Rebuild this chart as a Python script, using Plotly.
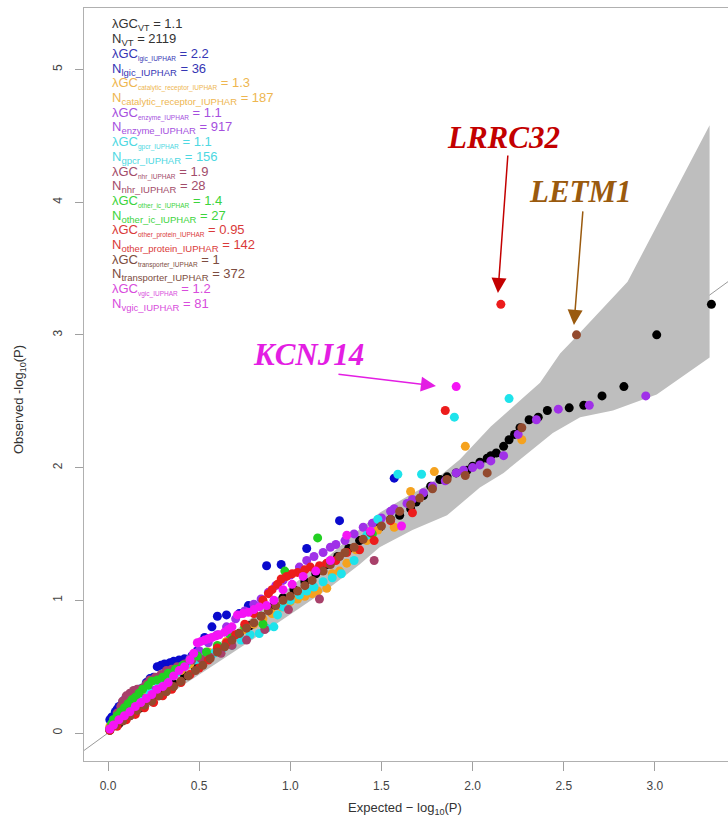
import plotly.graph_objects as go

# QQ plot of gene-set association p-values: expected vs observed -log10(P)
# Each list holds (expected, observed) pairs for one gene set.

vt_pts = [(3.31, 3.23), (3.01, 3.00), (2.83, 2.61), (2.71, 2.54), (2.61, 2.47), (2.53, 2.45),
          (2.41, 2.43), (2.36, 2.38), (2.31, 2.36), (2.26, 2.30), (2.23, 2.25), (2.20, 2.21),
          (2.17, 2.16), (2.13, 2.11), (2.10, 2.09), (2.08, 2.07), (2.04, 2.04), (2.00, 2.01),
          (1.97, 1.98), (1.91, 1.96), (1.86, 1.93), (1.82, 1.91), (1.77, 1.86), (1.73, 1.79),
          (1.69, 1.74), (1.66, 1.69), (1.60, 1.64), (1.55, 1.61), (1.49, 1.55), (1.44, 1.51),
          (1.38, 1.45), (1.32, 1.39), (1.26, 1.33), (1.20, 1.27), (1.14, 1.20), (1.08, 1.14),
          (1.02, 1.08), (0.96, 1.02), (0.90, 0.95), (0.84, 0.88), (0.78, 0.81), (0.72, 0.75),
          (0.66, 0.68), (0.60, 0.62), (0.54, 0.56), (0.48, 0.49), (0.42, 0.43), (0.36, 0.37),
          (0.30, 0.31), (0.24, 0.25), (0.18, 0.19), (0.12, 0.13), (0.06, 0.07), (0.01, 0.02)]

lgic_pts = [(1.57, 1.92), (1.27, 1.60), (1.09, 1.39), (0.95, 1.27), (0.87, 1.26), (0.77, 0.96),
            (0.72, 0.90), (0.65, 0.89), (0.60, 0.88), (0.57, 0.80), (0.53, 0.72), (0.49, 0.62),
            (0.46, 0.58), (0.42, 0.56), (0.39, 0.55), (0.36, 0.54), (0.34, 0.53), (0.31, 0.52),
            (0.29, 0.51), (0.27, 0.50), (0.25, 0.42), (0.23, 0.41), (0.21, 0.38), (0.19, 0.34),
            (0.17, 0.33), (0.15, 0.32), (0.14, 0.30), (0.12, 0.27), (0.11, 0.26), (0.09, 0.25),
            (0.08, 0.23), (0.06, 0.20), (0.05, 0.18), (0.04, 0.16), (0.02, 0.12), (0.01, 0.10)]

catalytic_pts = [(2.27, 2.21), (1.96, 2.16), (1.79, 1.97), (1.66, 1.82), (1.57, 1.55), (1.48, 1.53),
                 (1.42, 1.45), (1.36, 1.38), (1.31, 1.28), (1.27, 1.22), (1.23, 1.20), (1.20, 1.09),
                 (1.15, 1.07), (1.12, 1.05), (1.08, 1.03), (1.04, 1.01), (1.00, 0.99), (0.95, 0.95),
                 (0.90, 0.90), (0.85, 0.86), (0.80, 0.82), (0.75, 0.78), (0.70, 0.74), (0.65, 0.69),
                 (0.60, 0.65), (0.55, 0.61), (0.50, 0.57), (0.45, 0.52), (0.40, 0.47), (0.36, 0.44),
                 (0.32, 0.41), (0.28, 0.37), (0.24, 0.31), (0.21, 0.27), (0.17, 0.23), (0.13, 0.19),
                 (0.10, 0.17), (0.07, 0.14), (0.04, 0.10), (0.01, 0.05)]

enzyme_pts = [(2.95, 2.54), (2.64, 2.47), (2.47, 2.44), (2.35, 2.36), (2.25, 2.25), (2.17, 2.09),
              (2.10, 2.05), (2.04, 2.02), (2.00, 2.00), (1.95, 1.98), (1.91, 1.96), (1.85, 1.90),
              (1.78, 1.86), (1.73, 1.81), (1.67, 1.76), (1.64, 1.73), (1.57, 1.69), (1.55, 1.67),
              (1.50, 1.62), (1.45, 1.58), (1.40, 1.55), (1.35, 1.50), (1.30, 1.45), (1.25, 1.42),
              (1.22, 1.40), (1.18, 1.36), (1.13, 1.33), (1.09, 1.30), (1.05, 1.25), (1.00, 1.19),
              (0.96, 1.15), (0.92, 1.11), (0.88, 1.06), (0.84, 1.01), (0.80, 0.97), (0.75, 0.92),
              (0.70, 0.86), (0.65, 0.80), (0.60, 0.74), (0.55, 0.68), (0.50, 0.62), (0.45, 0.56),
              (0.40, 0.50), (0.35, 0.44), (0.30, 0.38), (0.25, 0.32), (0.20, 0.26), (0.15, 0.20),
              (0.10, 0.14), (0.05, 0.08), (0.01, 0.03)]

gpcr_pts = [(2.20, 2.52), (1.90, 2.38), (1.72, 1.95), (1.59, 1.95), (1.48, 1.61), (1.42, 1.49),
            (1.35, 1.30), (1.28, 1.20), (1.23, 1.17), (1.18, 1.14), (1.13, 1.10), (1.09, 1.07),
            (1.05, 1.04), (1.00, 1.00), (0.96, 0.95), (0.93, 0.89), (0.91, 0.80), (0.87, 0.79),
            (0.83, 0.75), (0.78, 0.74), (0.73, 0.70), (0.68, 0.66), (0.63, 0.64), (0.58, 0.60),
            (0.53, 0.57), (0.48, 0.55), (0.43, 0.52), (0.38, 0.46), (0.33, 0.41), (0.28, 0.36),
            (0.23, 0.30), (0.18, 0.24), (0.13, 0.19), (0.08, 0.13), (0.04, 0.08), (0.01, 0.03)]

nhr_pts = [(1.46, 1.30), (1.16, 1.01), (0.99, 0.93), (0.86, 0.78), (0.76, 0.70), (0.68, 0.66),
           (0.62, 0.60), (0.56, 0.57), (0.51, 0.56), (0.46, 0.55), (0.42, 0.52), (0.38, 0.50),
           (0.35, 0.48), (0.32, 0.47), (0.29, 0.44), (0.26, 0.42), (0.23, 0.40), (0.21, 0.37),
           (0.19, 0.34), (0.16, 0.33), (0.14, 0.32), (0.12, 0.30), (0.10, 0.28), (0.08, 0.24),
           (0.07, 0.20), (0.05, 0.15), (0.03, 0.10), (0.02, 0.05)]

other_ic_pts = [(1.45, 1.50), (1.15, 1.47), (0.97, 1.22), (0.85, 0.82), (0.75, 0.80), (0.67, 0.74),
                (0.60, 0.66), (0.54, 0.61), (0.49, 0.58), (0.45, 0.55), (0.41, 0.51), (0.37, 0.48),
                (0.33, 0.45), (0.30, 0.42), (0.27, 0.40), (0.24, 0.39), (0.22, 0.36), (0.19, 0.33),
                (0.17, 0.30), (0.15, 0.27), (0.13, 0.25), (0.11, 0.22), (0.09, 0.19), (0.07, 0.16),
                (0.05, 0.13), (0.03, 0.10), (0.02, 0.07)]

other_protein_pts = [(2.155, 3.23), (1.85, 2.43), (1.67, 1.66), (1.55, 1.60), (1.46, 1.45), (1.38, 1.38),
                     (1.31, 1.36), (1.25, 1.30), (1.20, 1.28), (1.16, 1.26), (1.11, 1.25), (1.08, 1.23),
                     (1.04, 1.21), (1.01, 1.20), (0.98, 1.18), (0.95, 1.16), (0.93, 1.12), (0.90, 1.08),
                     (0.88, 1.05), (0.85, 1.00), (0.80, 0.90), (0.75, 0.82), (0.70, 0.74), (0.65, 0.68),
                     (0.60, 0.64), (0.55, 0.55), (0.50, 0.49), (0.45, 0.44), (0.40, 0.38), (0.35, 0.33),
                     (0.30, 0.28), (0.25, 0.23), (0.20, 0.19), (0.15, 0.14), (0.10, 0.10), (0.05, 0.05),
                     (0.01, 0.02)]

transporter_pts = [(2.57, 3.00), (2.27, 2.30), (2.08, 1.96), (1.96, 1.94), (1.86, 1.91), (1.78, 1.84),
                   (1.71, 1.77), (1.66, 1.72), (1.60, 1.67), (1.55, 1.61), (1.50, 1.56), (1.44, 1.51),
                   (1.40, 1.46), (1.35, 1.40), (1.30, 1.36), (1.27, 1.33), (1.22, 1.27), (1.18, 1.22),
                   (1.12, 1.15), (1.08, 1.11), (1.04, 1.07), (1.00, 1.03), (0.96, 1.00), (0.92, 0.96),
                   (0.88, 0.92), (0.84, 0.88), (0.80, 0.83), (0.76, 0.79), (0.72, 0.75), (0.68, 0.70),
                   (0.64, 0.65), (0.60, 0.61), (0.56, 0.56), (0.52, 0.51), (0.48, 0.47), (0.44, 0.43),
                   (0.40, 0.39), (0.36, 0.35), (0.32, 0.31), (0.28, 0.28), (0.24, 0.24), (0.20, 0.21),
                   (0.16, 0.17), (0.12, 0.13), (0.08, 0.09), (0.04, 0.06), (0.01, 0.03)]

vgic_pts = [(1.91, 2.61), (1.61, 1.56), (1.44, 1.52), (1.31, 1.49), (1.22, 1.30), (1.14, 1.22),
            (1.07, 1.18), (1.01, 1.12), (0.96, 1.08), (0.91, 1.00), (0.87, 0.96), (0.83, 0.95),
            (0.80, 0.93), (0.77, 0.91), (0.74, 0.90), (0.71, 0.89), (0.68, 0.80), (0.66, 0.78),
            (0.64, 0.76), (0.61, 0.74), (0.59, 0.73), (0.57, 0.72), (0.55, 0.71), (0.53, 0.70),
            (0.51, 0.69), (0.49, 0.68), (0.47, 0.60), (0.45, 0.55), (0.42, 0.50), (0.39, 0.47),
            (0.36, 0.43), (0.33, 0.38), (0.30, 0.35), (0.27, 0.33), (0.24, 0.29), (0.21, 0.26),
            (0.18, 0.23), (0.15, 0.20), (0.12, 0.16), (0.09, 0.13), (0.06, 0.10), (0.03, 0.06),
            (0.01, 0.03)]

# 95% confidence band for the expected quantiles
band_upper = [(0.0, 0.02), (0.2, 0.25), (0.4, 0.46), (0.6, 0.67), (0.8, 0.88), (1.0, 1.10),
              (1.2, 1.32), (1.35, 1.50), (1.49, 1.66), (1.65, 1.79), (1.77, 1.88), (1.93, 2.06),
              (2.10, 2.31), (2.28, 2.53), (2.37, 2.64), (2.48, 2.86), (2.55, 2.96), (2.85, 3.40),
              (3.30, 4.58)]
band_lower = [(3.30, 2.83), (3.01, 2.55), (2.77, 2.43), (2.59, 2.38), (2.44, 2.26), (2.28, 2.08),
              (2.17, 1.96), (2.04, 1.85), (1.86, 1.64), (1.67, 1.53), (1.49, 1.40), (1.38, 1.27),
              (1.22, 1.10), (1.05, 0.94), (0.91, 0.81), (0.6, 0.53), (0.3, 0.26), (0.0, 0.0)]

set_names = ["VT", "lgic_IUPHAR", "catalytic_receptor_IUPHAR", "enzyme_IUPHAR", "gpcr_IUPHAR",
             "nhr_IUPHAR", "other_ic_IUPHAR", "other_protein_IUPHAR", "transporter_IUPHAR", "vgic_IUPHAR"]
lambda_gc = ["1.1", "2.2", "1.3", "1.1", "1.1", "1.9", "1.4", "0.95", "1", "1.2"]
n_genes = [2119, 36, 187, 917, 156, 28, 27, 142, 372, 81]
point_sets = [vt_pts, lgic_pts, catalytic_pts, enzyme_pts, gpcr_pts,
              nhr_pts, other_ic_pts, other_protein_pts, transporter_pts, vgic_pts]
point_colors = ["#000000", "#0A0ACD", "#F5A21E", "#A030E8", "#1EE3EB",
                "#A8406A", "#22D022", "#EC1C1C", "#934A2E", "#F514F5"]
text_colors = ["#333333", "#3636B4", "#EEB650", "#A550DE", "#4ED8E2",
               "#A24C6A", "#3CD43C", "#DA3A3A", "#7C4C40", "#D84CDC"]

x_ticks = [0.0, 0.5, 1.0, 1.5, 2.0, 2.5, 3.0]
y_ticks = [0, 1, 2, 3, 4, 5]

# highlighted genes: label, arrow tip (expected, observed), colour, tail offset px, label centre
callouts = [("LRRC32", 2.139, 3.316, "#C30000", 10, -139, 2.167, 4.49),
            ("LETM1", 2.556, 3.075, "#9A5A0E", 9, -115, 2.594, 4.08),
            ("KCNJ14", 1.799, 2.615, "#E31EE3", -99, -12, 1.100, 2.85)]

X_RANGE = [-0.1317, 3.401]
Y_RANGE = [-0.211, 5.463]

fig = go.Figure()

# identity line
fig.add_trace(go.Scatter(x=[-0.5, 4.0], y=[-0.5, 4.0], mode="lines",
                         line=dict(color="#9a9a9a", width=1), hoverinfo="skip"))

# confidence band
bx = [p[0] for p in band_upper] + [p[0] for p in band_lower]
by = [p[1] for p in band_upper] + [p[1] for p in band_lower]
fig.add_trace(go.Scatter(x=bx, y=by, mode="lines", fill="toself", fillcolor="#BEBEBE",
                         line=dict(width=0, color="#BEBEBE"), hoverinfo="skip"))

for name, pts, col in zip(set_names, point_sets, point_colors):
    fig.add_trace(go.Scatter(
        x=[p[0] for p in pts], y=[p[1] for p in pts], mode="markers", name=name,
        marker=dict(color=col, size=9, line=dict(width=0))))

annotations = []

# lambda GC / N statistics block
line_h = 14.7
top_px = 25.0
plot_top, plot_h = 8.0, 753.0
for i, (name, lam, n, tc) in enumerate(zip(set_names, lambda_gc, n_genes, text_colors)):
    sub_small = 9 if name == "VT" else 6.5
    lam_text = (f"λGC<sub><span style='font-size:{sub_small}px'>{name}</span></sub> = {lam}")
    n_text = f"N<sub><span style='font-size:9.5px'>{name}</span></sub> = {n}"
    for j, txt in enumerate([lam_text, n_text]):
        ypx = top_px + (2 * i + j) * line_h
        annotations.append(dict(
            text=txt, xref="paper", yref="paper",
            x=(110 - 84) / 644, y=(plot_top + plot_h - ypx) / plot_h,
            xanchor="left", yanchor="middle", showarrow=False,
            font=dict(family="Liberation Sans, Arial", size=13, color=tc)))

# gene callouts
for label, tx, ty, col, ax, ay, lx, ly in callouts:
    annotations.append(dict(x=tx, y=ty, xref="x", yref="y", text="", showarrow=True,
                            ax=ax, ay=ay, arrowhead=2, arrowsize=2.0, arrowwidth=1.5,
                            arrowcolor=col))
    annotations.append(dict(x=lx, y=ly, xref="x", yref="y", text=label, showarrow=False,
                            xanchor="center", yanchor="middle",
                            font=dict(family="Liberation Serif, Times New Roman", size=31,
                                      color=col, weight="bold", style="italic")))

# axis titles
annotations.append(dict(text="Expected − log<sub>10</sub>(P)", xref="paper", yref="paper",
                        x=(405 - 84) / 644, y=(761 - 808) / 753, showarrow=False,
                        xanchor="center", yanchor="middle",
                        font=dict(family="Liberation Sans, Arial", size=13, color="#333333")))
annotations.append(dict(text="Observed -log<sub>10</sub>(P)", xref="paper", yref="paper",
                        x=(19 - 84) / 644, y=(761 - 400) / 753, showarrow=False, textangle=-90,
                        xanchor="center", yanchor="middle",
                        font=dict(family="Liberation Sans, Arial", size=13, color="#333333")))

fig.update_layout(
    width=728, height=821,
    margin=dict(l=84, r=0, t=8, b=60),
    plot_bgcolor="white", paper_bgcolor="white",
    showlegend=False,
    annotations=annotations,
    xaxis=dict(range=X_RANGE, tickvals=x_ticks, ticktext=[f"{v:.1f}" for v in x_ticks],
               ticks="outside", ticklen=9, tickcolor="#a0a0a0", tickwidth=1,
               showline=True, linecolor="#b0b0b0", linewidth=1, mirror=True,
               showgrid=False, zeroline=False, ticklabelstandoff=5,
               tickfont=dict(family="Liberation Sans, Arial", size=12, color="#444444")),
    yaxis=dict(range=Y_RANGE, tickvals=y_ticks, ticktext=[str(v) for v in y_ticks],
               ticks="outside", ticklen=8, tickcolor="#a0a0a0", tickwidth=1, tickangle=-90,
               showline=True, linecolor="#b0b0b0", linewidth=1, mirror=False,
               showgrid=False, zeroline=False, ticklabelstandoff=8,
               tickfont=dict(family="Liberation Sans, Arial", size=12, color="#444444")),
)

fig.write_html("out.html")
